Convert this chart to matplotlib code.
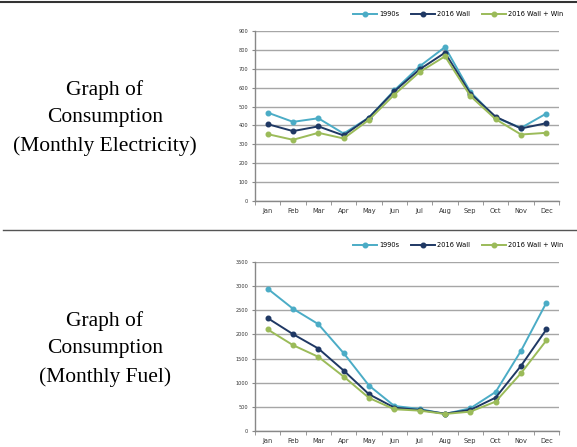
import numpy as np
import matplotlib
matplotlib.use('Agg')
import matplotlib.pyplot as plt
from matplotlib.lines import Line2D

months = ['Jan', 'Feb', 'Mar', 'Apr', 'May', 'Jun', 'Jul', 'Aug', 'Sep', 'Oct', 'Nov', 'Dec']
series_names = ['1990s', '2016 Wall', '2016 Wall + Win']

# monthly electricity
elec_1990s = [468, 419, 438, 357, 442, 586, 713, 815, 578, 442, 387, 463]
elec_wall = [407, 370, 395, 347, 442, 581, 697, 785, 569, 446, 384, 412]
elec_wallwin = [354, 324, 361, 331, 430, 563, 683, 766, 556, 433, 352, 361]

# monthly fuel
fuel_1990s = [2947, 2532, 2213, 1612, 941, 519, 456, 353, 470, 809, 1660, 2656]
fuel_wall = [2338, 2006, 1708, 1252, 761, 484, 436, 360, 436, 692, 1349, 2103]
fuel_wallwin = [2103, 1778, 1536, 1127, 685, 450, 422, 353, 401, 609, 1197, 1875]

colors = ['#4bacc6', '#1f3864', '#9bbb59']

W, H = 577, 447
fig = plt.figure(figsize=(W / 100, H / 100), dpi=100)

# frame lines of the table
fig.add_artist(Line2D([0, 1], [1 - 1.5 / H, 1 - 1.5 / H], color='#333333', lw=1.5))
fig.add_artist(Line2D([3 / W, 1], [1 - 230 / H, 1 - 230 / H], color='#555555', lw=1.0))

serif = ['Liberation Serif', 'DejaVu Serif']
fig.text(105 / W, 1 - 118 / H, 'Graph of\nConsumption\n(Monthly Electricity)',
         ha='center', va='center', fontsize=15.5, family=serif, linespacing=1.6)
fig.text(105 / W, 1 - 349 / H, 'Graph of\nConsumption\n(Monthly Fuel)',
         ha='center', va='center', fontsize=15.5, family=serif, linespacing=1.6)


def draw_chart(rect, data, ymax, ystep, legend_y):
    ax = fig.add_axes(rect)
    x = np.arange(len(months))
    for vals, c, name in zip(data, colors, series_names):
        ax.plot(x, vals, color=c, lw=1.4, marker='o', ms=3.3, label=name)
    ax.set_xlim(-0.5, len(months) - 0.5)
    ax.set_ylim(0, ymax)
    ax.set_yticks(np.arange(0, ymax + 1, ystep))
    ax.set_xticks(x)
    ax.set_xticklabels(months)
    ax.set_xticks(np.arange(-0.5, len(months), 1), minor=True)
    ax.tick_params(axis='x', which='major', length=0, labelsize=4.8, colors='#333333', pad=5)
    ax.tick_params(axis='x', which='minor', length=3, color='#888888')
    ax.tick_params(axis='y', length=2, color='#888888', labelsize=3.6, labelcolor='#333333', pad=3)
    ax.grid(axis='y', color='#a6a6a6', lw=1.0)
    ax.set_axisbelow(True)
    for s in ['top', 'right']:
        ax.spines[s].set_visible(False)
    for s in ['left', 'bottom']:
        ax.spines[s].set_color('#888888')
        ax.spines[s].set_linewidth(1.0)
    ax.legend(loc='center right', bbox_to_anchor=(1.035, legend_y), ncol=3, frameon=False,
              fontsize=4.8, handlelength=3.5, columnspacing=1.8, handletextpad=0.4)
    return ax


draw_chart([255 / W, 1 - 201 / H, 304 / W, 170 / H],
           [elec_1990s, elec_wall, elec_wallwin], 900, 100, 1.1)
draw_chart([255 / W, 1 - 431 / H, 304 / W, 169 / H],
           [fuel_1990s, fuel_wall, fuel_wallwin], 3500, 500, 1.1)

fig.savefig('out.png', dpi=100)
